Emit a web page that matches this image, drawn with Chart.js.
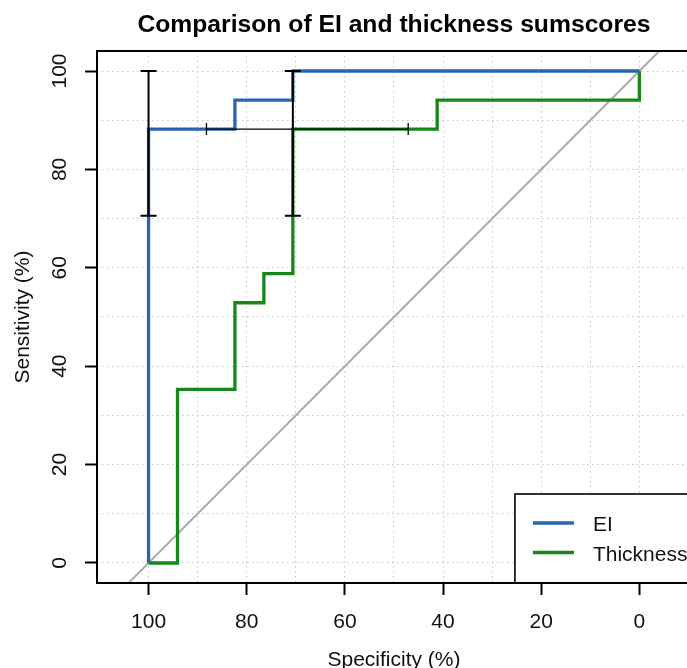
<!DOCTYPE html>
<html>
<head>
<meta charset="utf-8">
<title>Comparison of EI and thickness sumscores</title>
<script src="https://cdn.jsdelivr.net/npm/chart.js@4.4.1/dist/chart.umd.min.js"></script>
<style>
  html, body { margin: 0; padding: 0; background: #fff; }
</style>
</head>
<body>
<canvas id="rocChart" width="687" height="668"></canvas>
<script>
const titleText = 'Comparison of EI and thickness sumscores';
const xTitle = 'Specificity (%)';
const yTitle = 'Sensitivity (%)';

// ROC steps: specificity / sensitivity in %
const eiSpec = [100, 100, 82.4, 82.4, 70.6, 70.6, 0];
const eiSens = [0, 88.2, 88.2, 94.1, 94.1, 100, 100];
const thickSpec = [100, 94.1, 94.1, 82.4, 82.4, 76.5, 76.5, 70.6, 70.6, 41.2, 41.2, 0, 0];
const thickSens = [0, 0, 35.3, 35.3, 52.9, 52.9, 58.8, 58.8, 88.2, 88.2, 94.1, 94.1, 100];

// chance line (sens = 100 - spec)
const diagSpec = [120, -20];
const diagSens = [-20, 120];

// confidence bars
const sensCiSpec = [100, 70.6];
const sensCiLow = [70.6, 70.6];
const sensCiHigh = [100, 100];
const specCiSens = [88.2];
const specCiLow = [88.2];
const specCiHigh = [47.1];

const tickLabels = [0, 20, 40, 60, 80, 100];
const gridValues = [0, 10, 20, 30, 40, 50, 60, 70, 80, 90, 100];

const legendLabels = ['EI', 'Thickness'];

const FONT = '"Liberation Sans", Arial, Helvetica, sans-serif';
const INK = '#111';
// the plot region runs a little past the right edge of the picture
const X_MIN_VISIBLE = -9.7, X_MIN_FULL = -10.5, X_MAX = 110.5;

const toPoints = (xs, ys) => xs.map((v, i) => ({ x: v, y: ys[i] }));

const rocDecor = {
    id: 'rocDecor',
    afterDatasetsDraw(chart) {
        const { ctx, scales: { x, y } } = chart;
        ctx.save();
        ctx.strokeStyle = '#000';

        // sensitivity CI (vertical, thick)
        ctx.lineWidth = 2;
        sensCiSpec.forEach((s, i) => {
            const px = x.getPixelForValue(s);
            const y1 = y.getPixelForValue(sensCiLow[i]);
            const y2 = y.getPixelForValue(sensCiHigh[i]);
            ctx.beginPath();
            ctx.moveTo(px, y1); ctx.lineTo(px, y2);
            ctx.moveTo(px - 8, y1); ctx.lineTo(px + 8, y1);
            ctx.moveTo(px - 8, y2); ctx.lineTo(px + 8, y2);
            ctx.stroke();
        });

        // specificity CI (horizontal, thin)
        ctx.lineWidth = 1.3;
        specCiSens.forEach((s, i) => {
            const py = y.getPixelForValue(s);
            const x1 = x.getPixelForValue(specCiLow[i]);
            const x2 = x.getPixelForValue(specCiHigh[i]);
            ctx.beginPath();
            ctx.moveTo(x1, py); ctx.lineTo(x2, py);
            ctx.moveTo(x1, py - 6); ctx.lineTo(x1, py + 6);
            ctx.moveTo(x2, py - 6); ctx.lineTo(x2, py + 6);
            ctx.stroke();
        });
        ctx.restore();
    },
    afterDraw(chart) {
        const { ctx, chartArea: a, scales: { x, y } } = chart;
        const plotRight = x.getPixelForValue(X_MIN_FULL);
        const midX = (a.left + plotRight) / 2;
        const midY = (a.top + a.bottom) / 2;
        ctx.save();

        // legend, bottom right of the plot
        const bw = 176, bh = 89;
        const bx = plotRight - bw, by = a.bottom - bh;
        ctx.fillStyle = '#fff';
        ctx.fillRect(bx, by, bw, bh);
        ctx.strokeStyle = '#000';
        ctx.lineWidth = 1.6;
        ctx.strokeRect(bx, by, bw, bh);
        ctx.font = '21px ' + FONT;
        ctx.textAlign = 'left';
        ctx.textBaseline = 'alphabetic';
        legendLabels.forEach((lab, i) => {
            const ds = chart.data.datasets.find(d => d.label === lab);
            const ly = by + 29 + i * 29.5;
            ctx.strokeStyle = ds.borderColor;
            ctx.lineWidth = 3.3;
            ctx.beginPath();
            ctx.moveTo(bx + 18, ly); ctx.lineTo(bx + 59, ly);
            ctx.stroke();
            ctx.fillStyle = INK;
            ctx.fillText(lab, bx + 78, ly + 8);
        });

        // plot box
        ctx.strokeStyle = '#000';
        ctx.lineWidth = 2;
        ctx.strokeRect(a.left, a.top, plotRight - a.left, a.bottom - a.top);

        // y tick labels, parallel to the axis
        ctx.fillStyle = INK;
        ctx.font = '21px ' + FONT;
        ctx.textAlign = 'center';
        ctx.textBaseline = 'alphabetic';
        tickLabels.forEach(v => {
            ctx.save();
            ctx.translate(66, y.getPixelForValue(v));
            ctx.rotate(-Math.PI / 2);
            ctx.fillText(String(v), 0, 0);
            ctx.restore();
        });

        // axis titles
        ctx.save();
        ctx.translate(29, midY);
        ctx.rotate(-Math.PI / 2);
        ctx.fillText(yTitle, 0, 0);
        ctx.restore();
        ctx.fillText(xTitle, midX, 666);

        // main title
        ctx.font = 'bold 24.7px ' + FONT;
        ctx.fillStyle = '#000';
        ctx.fillText(titleText, midX, 32);
        ctx.restore();
    }
};

const gridOpts = {
    color: '#c8c8c8',
    lineWidth: 1,
    tickLength: 12,
    tickWidth: 2,
    tickColor: c => (c.tick && tickLabels.includes(c.tick.value)) ? '#000' : 'rgba(0,0,0,0)'
};

new Chart(document.getElementById('rocChart'), {
    type: 'line',
    data: {
        datasets: [
            {
                label: 'EI',
                data: toPoints(eiSpec, eiSens),
                borderColor: '#2a64b0',
                borderWidth: 3.3,
                order: 2
            },
            {
                label: 'Thickness',
                data: toPoints(thickSpec, thickSens),
                borderColor: '#16881a',
                borderWidth: 3.3,
                order: 1
            },
            {
                label: 'chance',
                data: toPoints(diagSpec, diagSens),
                borderColor: '#aaaaaa',
                borderWidth: 2,
                order: 3
            }
        ]
    },
    options: {
        responsive: false,
        animation: false,
        layout: { padding: { top: 51, right: 0, bottom: 0, left: 0 } },
        elements: {
            point: { radius: 0 },
            line: { tension: 0, borderJoinStyle: 'miter', fill: false }
        },
        plugins: {
            legend: { display: false },
            title: { display: false },
            tooltip: { enabled: false }
        },
        scales: {
            x: {
                type: 'linear',
                reverse: true,
                min: X_MIN_VISIBLE,
                max: X_MAX,
                afterBuildTicks: s => { s.ticks = gridValues.map(v => ({ value: v })); },
                afterFit: s => { s.height = 85; },
                ticks: {
                    autoSkip: false,
                    maxRotation: 0,
                    padding: 15,
                    color: INK,
                    font: { family: FONT, size: 21 },
                    callback: v => tickLabels.includes(v) ? String(v) : ''
                },
                grid: gridOpts,
                border: { display: false, dash: [1.5, 3.5] }
            },
            y: {
                type: 'linear',
                min: -4.07,
                max: 104.07,
                afterBuildTicks: s => { s.ticks = gridValues.map(v => ({ value: v })); },
                afterFit: s => { s.width = 97; },
                ticks: { display: false },
                grid: gridOpts,
                border: { display: false, dash: [1.5, 3.5] }
            }
        }
    },
    plugins: [rocDecor]
});
</script>
</body>
</html>
